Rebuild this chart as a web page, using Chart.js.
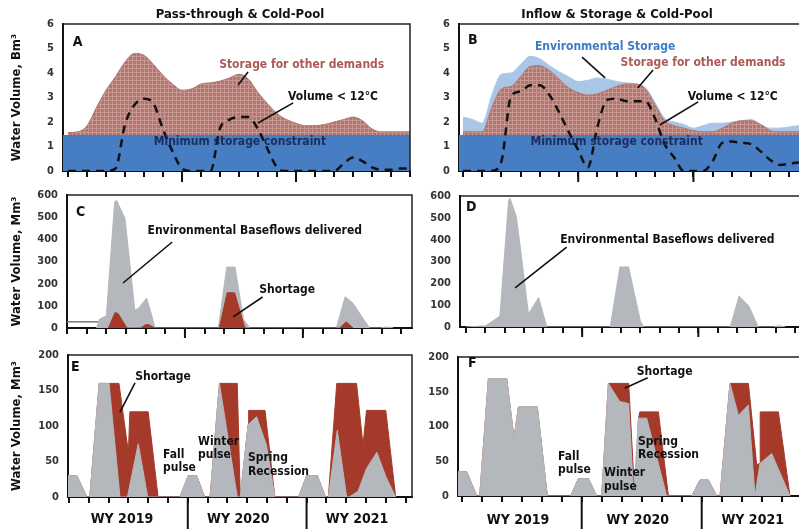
<!DOCTYPE html>
<html>
<head>
<meta charset="utf-8">
<title>Reservoir storage and environmental flows</title>
<script src="https://cdn.jsdelivr.net/npm/chart.js@4.4.1/dist/chart.umd.min.js"></script>
<style>
  html, body { margin: 0; padding: 0; background: #fff; }
  #wrap { position: relative; width: 799px; height: 529px; overflow: hidden; background: #fff; }
  #wrap canvas { position: absolute; left: 0; top: 0; }
</style>
</head>
<body>
<div id="wrap">
  <canvas id="cA" width="799" height="529"></canvas>
  <canvas id="cB" width="799" height="529"></canvas>
  <canvas id="cC" width="799" height="529"></canvas>
  <canvas id="cD" width="799" height="529"></canvas>
  <canvas id="cE" width="799" height="529"></canvas>
  <canvas id="cF" width="799" height="529"></canvas>
</div>
<script>
// ------------------ Data (month 0 = start of WY 2019) ------------------
// Panels A/B: one value per month, Bm3
const storageA = [1.57,1.6,1.85,2.6,3.3,3.85,4.45,4.8,4.72,4.35,3.9,3.55,3.3,3.35,3.55,3.6,3.67,3.8,3.95,3.75,3.2,2.75,2.35,2.1,1.95,1.85,1.85,1.9,2.0,2.1,2.2,2.05,1.72,1.6,1.6,1.6,1.6];
const coldPoolA = [0,0,0,0,0,0.1,1.9,2.7,2.95,2.75,1.7,0.8,0.1,0,0,0,1.75,2.1,2.2,2.2,1.7,0.9,0.15,0,0,0,0,0,0,0.3,0.55,0.4,0.15,0.05,0.05,0.1,0.1];
const storageB = [1.6,1.6,1.6,2.6,3.35,3.45,3.85,4.27,4.3,4.1,3.75,3.4,3.2,3.1,3.15,3.3,3.45,3.55,3.55,3.35,2.7,2.05,1.85,1.75,1.65,1.6,1.6,1.75,1.95,2.05,2.05,1.9,1.65,1.6,1.6,1.6];
const envStorageB = [2.2,2.1,1.95,3.1,3.95,4.0,4.35,4.68,4.58,4.3,4.05,3.85,3.65,3.7,3.8,3.75,3.65,3.6,3.55,3.4,2.8,2.15,2.0,1.9,1.75,1.85,1.95,1.95,2.0,2.05,2.1,1.9,1.75,1.75,1.8,1.85];
const coldPoolB = [0,0,0,0,0.4,3.05,3.25,3.5,3.5,3.1,2.4,1.6,0.85,0.15,1.8,2.9,2.95,2.85,2.85,2.85,2.15,1.1,0.55,0,0,0,0.4,1.15,1.2,1.15,1.1,0.8,0.45,0.25,0.3,0.35];
const minStorage = 1.45;

// Panels C-F: [month, Mm3] break points
const baseLineC = [[0,28],[3.2,28]];
const baseflowC = [[3.0,0],[3.3,40],[4.0,55],[4.85,570],[5.05,575],[5.9,495],[6.9,80],[7.3,90],[8.1,135],[8.6,60],[8.95,0],[15.4,0],[16.25,275],[17.1,275],[17.95,40],[18.6,0],[27.4,0],[28.3,141],[29.1,112],[30.0,51],[30.8,0],[31.9,0],[32.5,5],[33.2,0]];
const shortageC = [[4.2,0],[4.9,70],[5.2,65],[6.1,0],[7.5,0],[8.0,15],[8.3,15],[8.95,0],[15.5,0],[16.3,159],[17.05,159],[18.1,0],[27.75,0],[28.4,28],[29.1,0]];
const baseflowD = [[0,0],[2.0,5],[3.5,50],[4.4,580],[4.55,590],[5.2,505],[5.6,370],[6.45,60],[7.5,135],[8.35,0],[14.9,0],[15.9,275],[16.8,275],[18.0,30],[18.35,0],[27.3,0],[28.2,141],[29.2,97],[30.2,0],[31.8,0],[32.3,6],[33,0]];
const demandE = [[-0.1,30],[0.8,30],[1.8,0],[2.1,0],[3.05,160],[5.05,160],[6.0,63],[6.15,120],[8.0,120],[9.0,0],[11.2,0],[12.05,30],[12.9,30],[13.7,0],[14.25,0],[15.2,160],[17.0,160],[17.3,0],[18.1,102],[18.15,122],[19.8,122],[20.8,0],[23.2,0],[24.0,30],[25.1,30],[25.9,0],[26.2,0],[27.05,160],[29.05,160],[29.7,73],[30.05,122],[32.0,122],[33.0,0]];
const deliveredE = [[-0.1,30],[0.8,30],[1.8,0],[2.1,0],[3.05,160],[4.05,160],[5.15,0],[5.9,0],[7.0,75],[7.95,0],[11.2,0],[12.05,30],[12.9,30],[13.7,0],[14.25,0],[15.2,160],[17.0,0],[17.3,0],[18.1,102],[18.95,113],[19.95,73],[20.8,0],[23.2,0],[24.0,30],[25.1,30],[25.9,0],[26.2,0],[27.1,94],[28.05,0],[28.3,0],[29.2,8],[30.05,40],[31.1,63],[32.0,29],[33.0,0]];
const demandF = [[-0.4,35],[0.5,35],[1.5,0],[1.8,0],[2.67,169],[4.5,169],[5.23,83],[5.67,128],[7.56,128],[8.56,0],[10.9,0],[11.67,25],[12.67,25],[13.5,0],[14.0,0],[14.67,162],[16.7,162],[17.3,0],[17.67,110],[17.8,121],[19.67,121],[20.67,0],[23.0,0],[23.83,23],[24.67,23],[25.5,0],[25.83,0],[26.83,162],[28.67,162],[29.5,45],[29.83,47],[29.85,121],[31.67,121],[32.83,0]];
const deliveredF = [[-0.4,35],[0.5,35],[1.5,0],[1.8,0],[2.67,169],[4.5,169],[5.23,83],[5.67,128],[7.56,128],[8.56,0],[10.9,0],[11.67,25],[12.67,25],[13.5,0],[14.0,0],[14.67,162],[15.8,136],[16.7,133],[17.2,0],[17.67,112],[18.5,112],[20.5,0],[23.0,0],[23.83,23],[24.67,23],[25.5,0],[25.83,0],[26.83,162],[27.67,116],[28.67,131],[29.33,0],[29.83,47],[31.0,61],[32.83,0]];

// Ticks and labels
const monthTicks = [0,2,4,6,8,10,12,14,16,18,20,22,24,26,28,30,32,34,36];
const yearStarts = [12, 24];
const ticksBm = [0,1,2,3,4,5,6];
const ticksFlow = [0,100,200,300,400,500,600];
const ticksPulse = [0,50,100,150,200];
const yearLabels = ['WY 2019', 'WY 2020', 'WY 2021'];

// ------------------ Styles ------------------
const FONT = "'DejaVu Sans Condensed', 'DejaVu Sans', sans-serif";
const BLUE = '#467dc3';
const ENV_BLUE = '#a9c6e6';
const GREY = '#b4b8bc';
const RED = '#a53a2b';
const BROWN_TXT = '#ad5a57';

function hatch(base, line) {
  const c = document.createElement('canvas');
  c.width = 4; c.height = 4;
  const g = c.getContext('2d');
  g.fillStyle = base; g.fillRect(0, 0, 4, 4);
  g.fillStyle = line; g.fillRect(0, 0, 1, 4); g.fillRect(0, 0, 4, 1);
  return g.createPattern(c, 'repeat');
}
const BROWN = hatch('#b3766f', '#c79891');

const monthly = arr => arr.map((y, x) => ({ x, y }));
const pts = arr => arr.map(([x, y]) => ({ x, y }));

// ------------------ Decoration plugin (frame, month ticks, year dividers, notes) ------------------
const panelDecor = {
  id: 'panelDecor',
  afterDraw(chart, args, o) {
    const ctx = chart.ctx;
    const { left, right, top, bottom } = chart.chartArea;
    const xs = chart.scales.x, ys = chart.scales.y;
    ctx.save();
    ctx.strokeStyle = '#222';
    ctx.lineWidth = 1.5;
    ctx.beginPath();
    ctx.moveTo(left, top);
    ctx.lineTo(right, top);
    if (o.frameRight) ctx.lineTo(right, bottom);
    ctx.stroke();

    // small tick every two months, long divider at each water-year start
    ctx.lineWidth = 2;
    ctx.strokeStyle = '#111';
    ctx.beginPath();
    monthTicks.filter(m => m >= xs.min && m <= xs.max).forEach(m => {
      const px = Math.round(xs.getPixelForValue(m));
      ctx.moveTo(px, bottom);
      ctx.lineTo(px, bottom + 6);
    });
    ctx.stroke();
    ctx.beginPath();
    yearStarts.forEach(m => {
      const px = xs.getPixelForValue(m);
      ctx.moveTo(px, bottom);
      ctx.lineTo(px, bottom + o.majorLen);
    });
    ctx.stroke();

    ctx.lineWidth = 1.6;
    (o.leaders || []).forEach(([a, b]) => {
      ctx.beginPath();
      ctx.moveTo(xs.getPixelForValue(a[0]), ys.getPixelForValue(a[1]));
      ctx.lineTo(xs.getPixelForValue(b[0]), ys.getPixelForValue(b[1]));
      ctx.stroke();
    });

    ctx.textBaseline = 'middle';
    (o.notes || []).forEach(n => {
      ctx.font = `bold ${n.s || 12}px ${FONT}`;
      ctx.fillStyle = n.c || '#111';
      ctx.textAlign = n.a || 'center';
      ctx.fillText(n.t, xs.getPixelForValue(n.x), ys.getPixelForValue(n.y));
    });
    ctx.restore();
  }
};

// ------------------ Panel builder ------------------
function panel(id, g, y, datasets, decor) {
  const yAxisW = g.left - 4;
  const xAxisH = 8;
  return new Chart(document.getElementById(id), {
    type: 'line',
    data: { datasets },
    options: {
      responsive: false,
      animation: false,
      devicePixelRatio: 1,
      layout: { padding: { left: 4, top: g.top, right: 799 - g.right, bottom: 529 - g.bottom - xAxisH } },
      plugins: { legend: { display: false }, tooltip: { enabled: false }, panelDecor: decor },
      elements: { point: { radius: 0 }, line: { borderWidth: 1, tension: 0 } },
      scales: {
        x: {
          type: 'linear', min: g.xmin, max: g.xmax,
          afterBuildTicks: s => { s.ticks = monthTicks.filter(v => v >= g.xmin && v <= g.xmax).map(v => ({ value: v })); },
          afterFit: s => { s.height = xAxisH; },
          ticks: { display: false },
          grid: { display: false },
          border: { display: true, color: '#111', width: 2 }
        },
        y: {
          min: 0, max: y.max,
          afterBuildTicks: s => { s.ticks = y.ticks.map(v => ({ value: v })); },
          afterFit: s => { s.width = yAxisW; },
          ticks: { font: { family: FONT, size: 11, weight: 'bold' }, color: '#333', padding: 9 },
          grid: { drawOnChartArea: false, drawTicks: false },
          border: { color: '#111', width: 2 },
          title: y.title
            ? { display: true, text: y.title, color: '#111', font: { family: FONT, size: 13, weight: 'bold' }, padding: { top: 5, bottom: 0 } }
            : { display: false }
        }
      }
    },
    plugins: [panelDecor]
  });
}

const flat = (g, v) => [{ x: g.xmin, y: v }, { x: g.xmax, y: v }];
const area = (data, color, order, extra) =>
  Object.assign({ data, backgroundColor: color, borderColor: color, borderWidth: 1, fill: 'origin', order }, extra || {});
const dashed = (data, order) => ({
  data, borderColor: '#111', borderWidth: 2.5, borderDash: [8, 6], fill: false,
  cubicInterpolationMode: 'monotone', order
});

// ------------------ A ------------------
const gA = { left: 63, top: 24, right: 410, bottom: 171, xmin: -0.53, xmax: 36.0 };
panel('cA', gA, { max: 6, ticks: ticksBm, title: 'Water Volume, Bm³' }, [
  dashed(monthly(coldPoolA), 1),
  area(flat(gA, minStorage), BLUE, 2),
  area(monthly(storageA), BROWN, 3, { borderColor: '#b3766f', cubicInterpolationMode: 'monotone' })
], {
  frameRight: true, majorLen: 11,
  leaders: [[[18.95, 4.04], [17.9, 3.51]], [[23.7, 2.78], [20.0, 1.96]]],
  notes: [
    { t: 'Pass-through & Cold-Pool', x: 18.1, y: 6.37, s: 13 },
    { t: 'A', x: 0.5, y: 5.27, s: 14, a: 'left' },
    { t: 'Storage for other demands', x: 24.6, y: 4.33, c: BROWN_TXT },
    { t: 'Volume < 12°C', x: 27.9, y: 3.02 },
    { t: 'Minimum storage constraint', x: 18.1, y: 1.18, c: '#1e2d5c' }
  ]
});

// ------------------ B ------------------
const gB = { left: 459, top: 24, right: 799, bottom: 171, xmin: -0.42, xmax: 35.0 };
panel('cB', gB, { max: 6, ticks: ticksBm }, [
  dashed(monthly(coldPoolB), 1),
  area(flat(gB, minStorage), BLUE, 2),
  area(monthly(storageB), BROWN, 3, { borderColor: '#b3766f', cubicInterpolationMode: 'monotone' }),
  area(monthly(envStorageB), ENV_BLUE, 4, { cubicInterpolationMode: 'monotone' })
], {
  frameRight: false, majorLen: 11,
  leaders: [[[12.4, 4.65], [14.8, 3.8]], [[19.8, 4.12], [18.2, 3.39]], [[24.5, 2.82], [20.5, 1.88]]],
  notes: [
    { t: 'Inflow & Storage & Cold-Pool', x: 16.04, y: 6.37, s: 13 },
    { t: 'B', x: 0.52, y: 5.35, s: 14, a: 'left' },
    { t: 'Environmental Storage', x: 14.8, y: 5.06, c: '#3f7cc8' },
    { t: 'Storage for other demands', x: 25.0, y: 4.41, c: BROWN_TXT },
    { t: 'Volume < 12°C', x: 28.1, y: 3.02 },
    { t: 'Minimum storage constraint', x: 16.0, y: 1.18, c: '#1e2d5c' }
  ]
});

// ------------------ C ------------------
const gC = { left: 67, top: 195, right: 412, bottom: 328, xmin: 0, xmax: 35.1 };
panel('cC', gC, { max: 600, ticks: ticksFlow, title: 'Water Volume, Mm³' }, [
  area(pts(shortageC), RED, 1),
  area(pts(baseflowC), GREY, 2),
  { data: pts(baseLineC), borderColor: '#777', borderWidth: 1.5, fill: false, order: 3 }
], {
  frameRight: true, majorLen: 10,
  leaders: [[[10.7, 388], [5.7, 203]], [[19.9, 140], [16.9, 50]]],
  notes: [
    { t: 'C', x: 0.92, y: 523, s: 14, a: 'left' },
    { t: 'Environmental Baseflows delivered', x: 19.1, y: 437 },
    { t: 'Shortage', x: 22.4, y: 171 }
  ]
});

// ------------------ D ------------------
const gD = { left: 460, top: 196, right: 799, bottom: 327, xmin: -0.62, xmax: 34.4 };
panel('cD', gD, { max: 600, ticks: ticksFlow }, [
  area(pts(baseflowD), GREY, 1)
], {
  frameRight: false, majorLen: 10,
  leaders: [[[10.4, 366], [5.07, 179]]],
  notes: [
    { t: 'D', x: 0, y: 550, s: 14, a: 'left' },
    { t: 'Environmental Baseflows delivered', x: 20.8, y: 398 }
  ]
});

// ------------------ E ------------------
const gE = { left: 68, top: 355, right: 412, bottom: 497, xmin: -0.1, xmax: 34.65 };
panel('cE', gE, { max: 200, ticks: ticksPulse, title: 'Water Volume, Mm³' }, [
  area(pts(deliveredE), GREY, 1),
  area(pts(demandE), RED, 2)
], {
  frameRight: true, majorLen: 32,
  leaders: [[[6.67, 160.6], [5.15, 119.7]]],
  notes: [
    { t: 'E', x: 0.2, y: 183, s: 14, a: 'left' },
    { t: 'Shortage', x: 9.5, y: 169 },
    { t: 'Fall', x: 9.5, y: 59, a: 'left' },
    { t: 'pulse', x: 9.5, y: 41, a: 'left' },
    { t: 'Winter', x: 13.03, y: 77.5, a: 'left' },
    { t: 'pulse', x: 13.03, y: 59, a: 'left' },
    { t: 'Spring', x: 18.08, y: 55, a: 'left' },
    { t: 'Recession', x: 18.08, y: 35, a: 'left' },
    { t: yearLabels[0], x: 5.35, y: -31, s: 14 },
    { t: yearLabels[1], x: 17.1, y: -31, s: 14 },
    { t: yearLabels[2], x: 29.1, y: -31, s: 14 }
  ]
});

// ------------------ F ------------------
const gF = { left: 458, top: 357, right: 799, bottom: 496, xmin: -0.37, xmax: 33.73 };
panel('cF', gF, { max: 200, ticks: ticksPulse }, [
  area(pts(deliveredF), GREY, 1),
  area(pts(demandF), RED, 2)
], {
  frameRight: false, majorLen: 33,
  leaders: [[[18.6, 170], [16.3, 155]]],
  notes: [
    { t: 'F', x: 0.63, y: 191, s: 14, a: 'left' },
    { t: 'Shortage', x: 20.3, y: 178 },
    { t: 'Fall', x: 9.63, y: 56, a: 'left' },
    { t: 'pulse', x: 9.63, y: 37, a: 'left' },
    { t: 'Winter', x: 14.23, y: 33, a: 'left' },
    { t: 'pulse', x: 14.23, y: 13, a: 'left' },
    { t: 'Spring', x: 17.63, y: 78, a: 'left' },
    { t: 'Recession', x: 17.63, y: 59, a: 'left' },
    { t: yearLabels[0], x: 5.63, y: -34.5, s: 14 },
    { t: yearLabels[1], x: 17.6, y: -34.5, s: 14 },
    { t: yearLabels[2], x: 29.1, y: -34.5, s: 14 }
  ]
});
</script>
</body>
</html>
